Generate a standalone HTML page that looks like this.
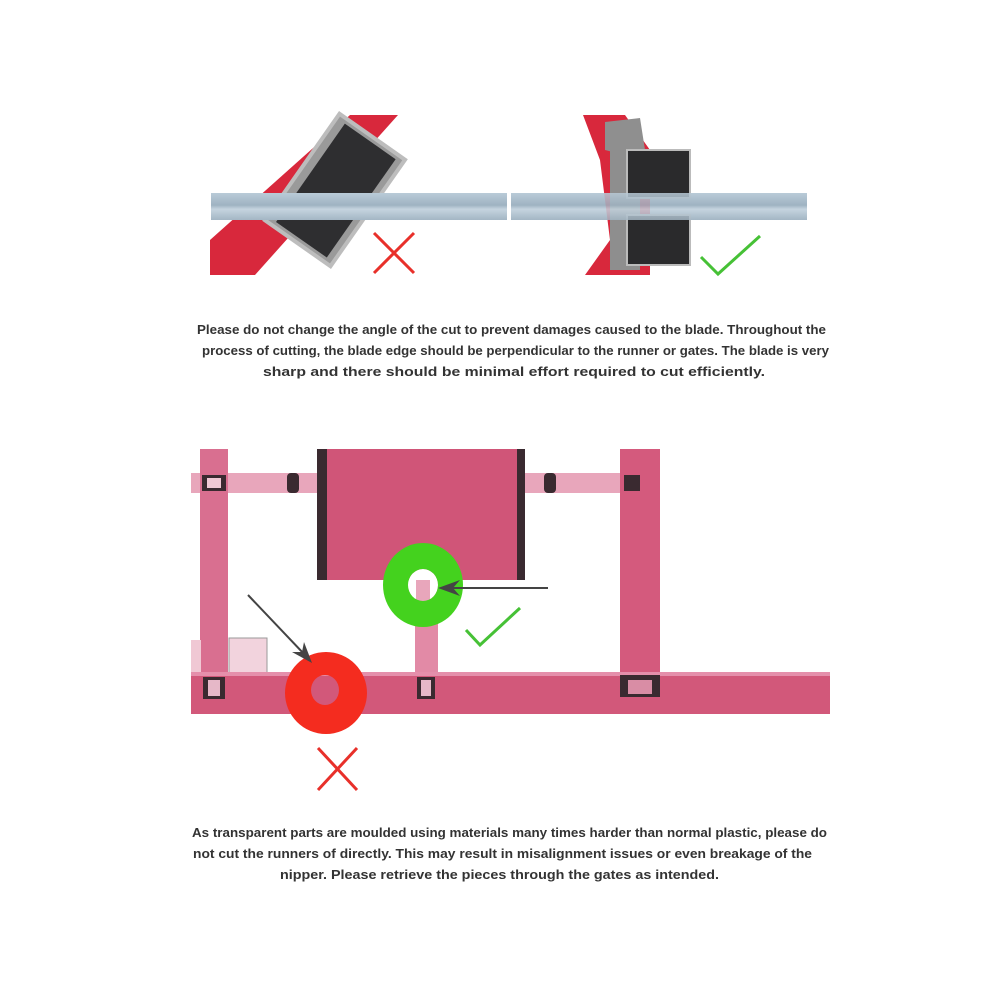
<!DOCTYPE html>
<html><head><style>body{margin:0;background:#fff}svg{display:block}</style></head><body>
<svg width="1000" height="1000" viewBox="0 0 1000 1000" xmlns="http://www.w3.org/2000/svg">
<defs>
<linearGradient id="rod" x1="0" y1="0" x2="0" y2="1"><stop offset="0" stop-color="#b9cbd8"/><stop offset="0.45" stop-color="#9fb3c2"/><stop offset="0.6" stop-color="#c5d4df"/><stop offset="1" stop-color="#a3b6c4"/></linearGradient>
</defs>
<polygon points="210,275 210,240 350,115 398,115 255,275" fill="#d8283c"/>
<g transform="rotate(35 335 190)">
<rect x="295" y="125" width="80" height="130" fill="#9a9a9a"/>
<rect x="305" y="130" width="62" height="120" fill="#2e2e30"/>
<rect x="295" y="125" width="80" height="130" fill="none" stroke="#bdbdbd" stroke-width="4"/>
</g>
<rect x="211" y="193" width="296" height="27" fill="url(#rod)"/>
<rect x="511" y="193" width="296" height="27" fill="url(#rod)"/>
<path d="M374 233 L414 273 M414 233 L374 273" stroke="#e8302a" stroke-width="3"/>
<polygon points="583,115 625,115 650,150 650,275 585,275 610,240 600,160" fill="#d8283c"/>
<polygon points="605,122 640,118 645,150 625,155 605,150" fill="#8f8f8f"/>
<rect x="610" y="150" width="30" height="120" fill="#8e8e8e"/>
<polygon points="627,150 690,150 690,198 627,198" fill="#2a2a2c" stroke="#bbb" stroke-width="2"/>
<rect x="627" y="215" width="63" height="50" fill="#2a2a2c" stroke="#bbb" stroke-width="2"/>
<rect x="511" y="193" width="296" height="27" fill="url(#rod)" opacity="0.85"/>
<path d="M701 257 L718 274 L760 236" stroke="#46c136" stroke-width="3" fill="none"/>
<g font-family="Liberation Sans, sans-serif" font-weight="bold" font-size="13" fill="#333">
<text x="197" y="334" textLength="629" lengthAdjust="spacingAndGlyphs">Please do not change the angle of the cut to prevent damages caused to the blade. Throughout the</text>
<text x="202" y="355" textLength="627" lengthAdjust="spacingAndGlyphs">process of cutting, the blade edge should be perpendicular to the runner or gates. The blade is very</text>
<text x="263" y="376" textLength="502" lengthAdjust="spacingAndGlyphs">sharp and there should be minimal effort required to cut efficiently.</text>
<text x="192" y="837" textLength="635" lengthAdjust="spacingAndGlyphs">As transparent parts are moulded using materials many times harder than normal plastic, please do</text>
<text x="193" y="858" textLength="619" lengthAdjust="spacingAndGlyphs">not cut the runners of directly. This may result in misalignment issues or even breakage of the</text>
<text x="280" y="879" textLength="439" lengthAdjust="spacingAndGlyphs">nipper. Please retrieve the pieces through the gates as intended.</text>
</g>
<rect x="191" y="473" width="130" height="20" fill="#e8a6bb"/>
<rect x="525" y="473" width="115" height="20" fill="#e8a6bb"/>
<rect x="200" y="449" width="28" height="250" fill="#d96f90"/>
<rect x="620" y="449" width="40" height="250" fill="#d45a7d"/>
<rect x="191" y="640" width="10" height="35" fill="#f0c8d4"/>
<rect x="229" y="638" width="38" height="37" fill="#f2d3dd" stroke="#999" stroke-width="1"/>
<rect x="317" y="449" width="208" height="131" fill="#d05578"/>
<rect x="317" y="449" width="10" height="131" fill="#3a2a30"/>
<rect x="517" y="449" width="8" height="131" fill="#3a2a30"/>
<rect x="415" y="580" width="23" height="110" fill="#e28aa6"/>
<rect x="191" y="672" width="639" height="42" fill="#d2587a"/>
<rect x="191" y="672" width="639" height="4" fill="#e58fab"/>
<rect x="203" y="677" width="22" height="22" fill="#3a2a30"/><rect x="208" y="680" width="12" height="16" fill="#e6b8c8"/>
<rect x="417" y="677" width="18" height="22" fill="#3a2a30"/><rect x="421" y="680" width="10" height="16" fill="#e6b8c8"/>
<rect x="620" y="675" width="40" height="22" fill="#3a2a30"/><rect x="628" y="680" width="24" height="14" fill="#d98da5"/>
<rect x="202" y="475" width="24" height="16" fill="#3a2a30"/><rect x="207" y="478" width="14" height="10" fill="#f0c8d4"/>
<rect x="287" y="473" width="12" height="20" fill="#3a2a30" rx="4"/>
<rect x="544" y="473" width="12" height="20" fill="#3a2a30" rx="4"/>
<rect x="624" y="475" width="16" height="16" fill="#3a2a30"/>
<ellipse cx="423" cy="585" rx="15" ry="16" fill="#fff"/>
<rect x="416" y="580" width="14" height="21" fill="#e8a6bb"/>
<path fill-rule="evenodd" fill="#44d21e" d="M383 585 a40 42 0 1 0 80 0 a40 42 0 1 0 -80 0 Z M408 585 a15 16 0 1 0 30 0 a15 16 0 1 0 -30 0 Z"/>
<path fill-rule="evenodd" fill="#f42c1f" d="M285 693 a41 41 0 1 0 82 0 a41 41 0 1 0 -82 0 Z M311 690 a14 15 0 1 0 28 0 a14 15 0 1 0 -28 0 Z"/>
<line x1="548" y1="588" x2="445" y2="588" stroke="#444" stroke-width="2"/>
<polygon points="438,588 460,580 453,588 460,596" fill="#444"/>
<line x1="248" y1="595" x2="305" y2="655" stroke="#444" stroke-width="2"/>
<polygon points="312,663 292,652 302,652 304,642" fill="#444"/>
<path d="M466 630 L480 645 L520 608" stroke="#46c136" stroke-width="3" fill="none"/>
<path d="M318 748 L357 790 M357 748 L318 790" stroke="#e8302a" stroke-width="3"/>
</svg>
</body></html>
